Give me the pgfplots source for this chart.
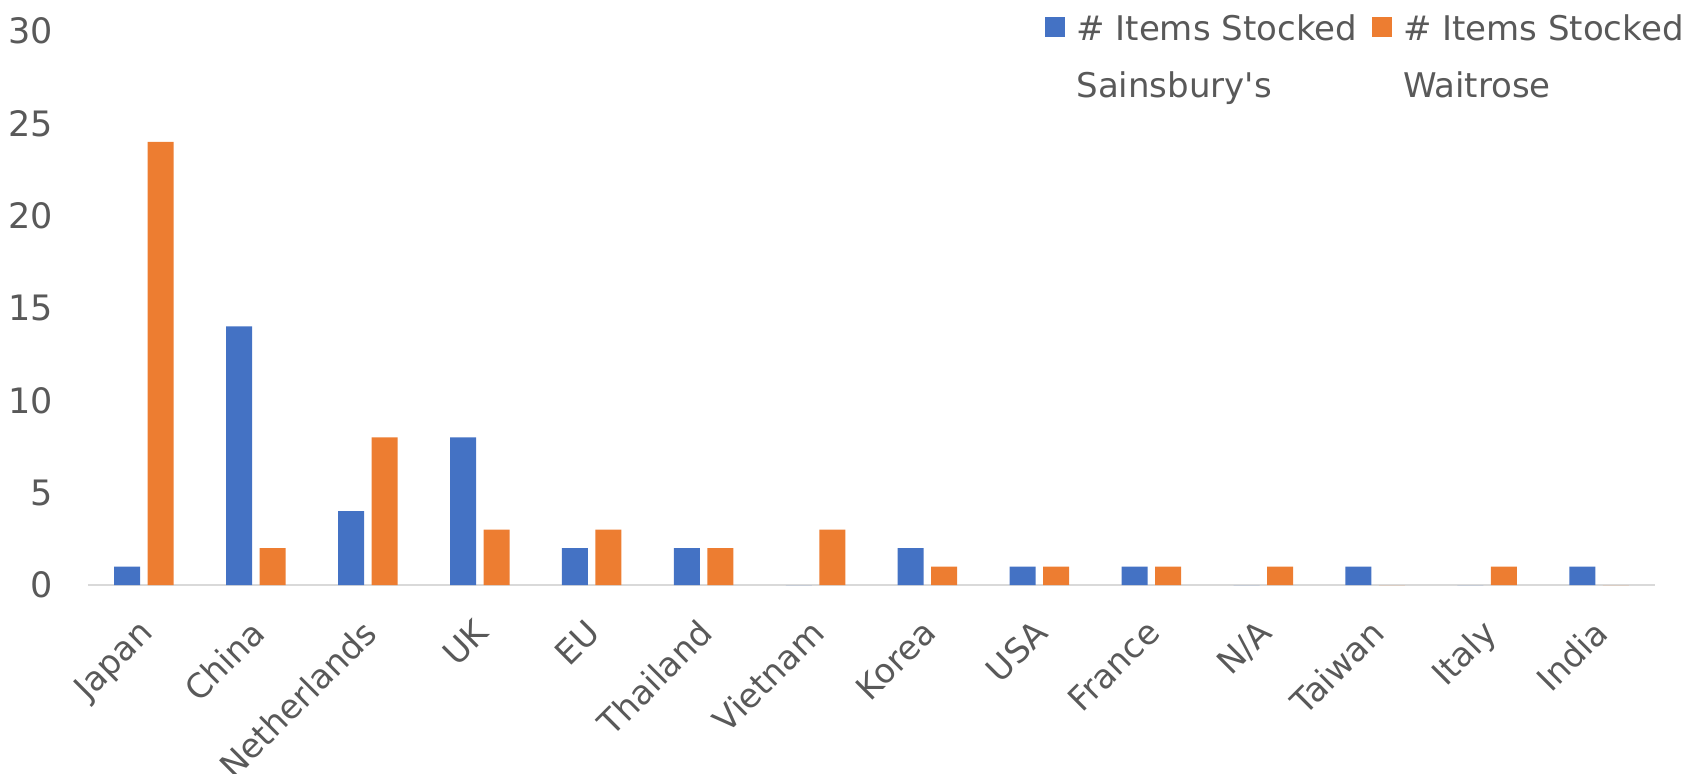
\documentclass[border=0pt]{standalone}
\usepackage{pgfplots}
\pgfplotsset{compat=1.18}
\usepackage{fontspec}
\setmainfont{DejaVu Sans}
\definecolor{sblue}{HTML}{4472C4}
\definecolor{worange}{HTML}{ED7D31}
\definecolor{txt}{HTML}{595959}
\definecolor{axl}{HTML}{D9D9D9}
\begin{document}
\begin{tikzpicture}
\begin{axis}[
  scale only axis, width=783.5pt, height=277pt,
  xmin=-0.5, xmax=13.5, ymin=0, ymax=30,
  ybar=3.75pt, bar width=13pt,
  axis x line=bottom, axis y line=left,
  x axis line style={-, draw=axl, line width=1pt},
  y axis line style={draw=none},
  xtick={0,...,13},
  xticklabels={Japan,China,Netherlands,UK,EU,Thailand,Vietnam,Korea,USA,France,N/A,Taiwan,Italy,India},
  ytick={0,5,...,30},
  major tick length=0pt,
  tick style={draw=none},
  /pgf/number format/assume math mode=true,
  yticklabel style={font=\fontsize{17.5}{21}\selectfont, text=txt, anchor=east, inner sep=0pt, xshift=-17.5pt},
  xticklabel style={font=\fontsize{16.8}{20}\selectfont, text=txt, inner sep=0pt, xshift=-3.5pt, yshift=-16pt, rotate=45, anchor=north east},
  legend image code/.code={\fill[#1] (0pt,10.2pt) rectangle (10pt,20.2pt);},
  legend style={draw=none, fill=none, at={(0.6069,1.038)}, anchor=north west, legend columns=2,
    font=\fontsize{17}{28.5}\selectfont, text=txt, nodes={inner sep=0pt, align=left},
    /tikz/every odd column/.append style={column sep=5.5pt},
    /tikz/every even column/.append style={column sep=7.5pt}},
  legend cell align=left,
]
\addplot[fill=sblue, draw=none] coordinates {(0,1) (1,14) (2,4) (3,8) (4,2) (5,2) (6,0) (7,2) (8,1) (9,1) (10,0) (11,1) (12,0) (13,1)};
\addlegendentry{\# Items Stocked\\Sainsbury\textquotesingle s}
\addplot[fill=worange, draw=none] coordinates {(0,24) (1,2) (2,8) (3,3) (4,3) (5,2) (6,3) (7,1) (8,1) (9,1) (10,1) (11,0) (12,1) (13,0)};
\addlegendentry{\# Items Stocked\\Waitrose}
\end{axis}
\pgfresetboundingbox
\path[use as bounding box] (-44pt,-94pt) rectangle (797pt,292.5pt);
\end{tikzpicture}
\end{document}
